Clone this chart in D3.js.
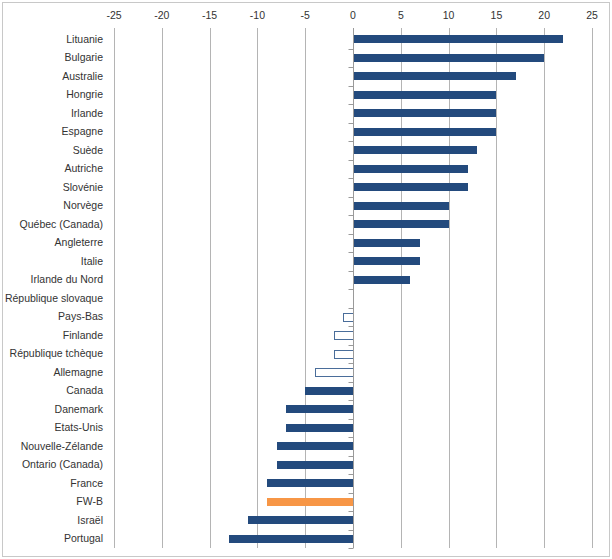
<!DOCTYPE html>
<html>
<head>
<meta charset="utf-8">
<script src="https://cdn.jsdelivr.net/npm/d3@7"></script>
<style>
  body { margin: 0; background: #fff; }
  svg { display: block; font-family: "Liberation Sans", Arial, sans-serif; }
</style>
</head>
<body>
<svg id="chart" width="612" height="559"></svg>
<script>
const countries = [
  "Lituanie", "Bulgarie", "Australie", "Hongrie", "Irlande", "Espagne", "Suède",
  "Autriche", "Slovénie", "Norvège", "Québec (Canada)", "Angleterre", "Italie",
  "Irlande du Nord", "République slovaque", "Pays-Bas", "Finlande",
  "République tchèque", "Allemagne", "Canada", "Danemark", "Etats-Unis",
  "Nouvelle-Zélande", "Ontario (Canada)", "France", "FW-B", "Israël", "Portugal"
];
const values = [22, 20, 17, 15, 15, 15, 13, 12, 12, 10, 10, 7, 7, 6, 0, -1, -2, -2, -4, -5, -7, -7, -8, -8, -9, -9, -11, -13];
// non-significant differences drawn as outlined bars
const notSignificant = ["République slovaque", "Pays-Bas", "Finlande", "République tchèque", "Allemagne"];
const highlight = "FW-B";
const xTicks = [-25, -20, -15, -10, -5, 0, 5, 10, 15, 20, 25];

const data = countries.map((c, i) => ({ name: c, value: values[i] }));

const svg = d3.select("#chart");
const W = 612, H = 559;
const margin = { top: 30, right: 20, bottom: 11, left: 114 };

svg.append("rect")
  .attr("x", 2.5).attr("y", 2.5)
  .attr("width", W - 5).attr("height", H - 5)
  .attr("fill", "#fff").attr("stroke", "#c8c8c8");

const x = d3.scaleLinear().domain([-25, 25]).range([margin.left, W - margin.right]);
const y = d3.scaleBand().domain(countries).range([margin.top, H - margin.bottom]).paddingInner(0.56).paddingOuter(0.28);
const yb = d3.scaleBand().domain(countries).range([margin.top, H - margin.bottom]);

// gridlines
svg.append("g")
  .selectAll("line")
  .data(xTicks.filter(d => d !== 0))
  .join("line")
  .attr("x1", d => Math.round(x(d)) + 0.5)
  .attr("x2", d => Math.round(x(d)) + 0.5)
  .attr("y1", margin.top - 2)
  .attr("y2", H - margin.bottom)
  .attr("stroke", "#b4b4b4");

// top axis labels
svg.append("g")
  .selectAll("text")
  .data(xTicks)
  .join("text")
  .attr("x", d => x(d))
  .attr("y", 19)
  .attr("text-anchor", "middle")
  .attr("font-size", 10.5)
  .attr("fill", "#333")
  .text(d => d);

// bars
svg.append("g")
  .selectAll("rect")
  .data(data.filter(d => d.value !== 0))
  .join("rect")
  .attr("x", d => Math.round(x(Math.min(0, d.value))) + (notSignificant.includes(d.name) ? 0.5 : 0))
  .attr("y", d => Math.round(y(d.name)) + (notSignificant.includes(d.name) ? 0.5 : 0))
  .attr("width", d => Math.round(Math.abs(x(d.value) - x(0))))
  .attr("height", Math.round(y.bandwidth()))
  .attr("fill", d => d.name === highlight ? "#f79646" : (notSignificant.includes(d.name) ? "#fff" : "#234a7d"))
  .attr("stroke", d => notSignificant.includes(d.name) ? "#4a6d9a" : "none")
  .attr("stroke-width", 1);

// category axis at zero
const x0 = Math.round(x(0)) + 0.5;
svg.append("line")
  .attr("x1", x0).attr("x2", x0)
  .attr("y1", margin.top - 2).attr("y2", H - margin.bottom)
  .attr("stroke", "#9a9a9a");

svg.append("g")
  .selectAll("line")
  .data(countries.slice(1).concat(["__end"]))
  .join("line")
  .attr("x1", x0 - 5).attr("x2", x0)
  .attr("y1", (d, i) => Math.round(margin.top + (i + 1) * yb.step()) + 0.5)
  .attr("y2", (d, i) => Math.round(margin.top + (i + 1) * yb.step()) + 0.5)
  .attr("stroke", "#9a9a9a");

// category labels
svg.append("g")
  .selectAll("text")
  .data(countries)
  .join("text")
  .attr("x", 103)
  .attr("y", d => yb(d) + yb.bandwidth() / 2)
  .attr("dy", "0.35em")
  .attr("text-anchor", "end")
  .attr("font-size", 10.5)
  .attr("fill", "#333")
  .text(d => d);
</script>
</body>
</html>
